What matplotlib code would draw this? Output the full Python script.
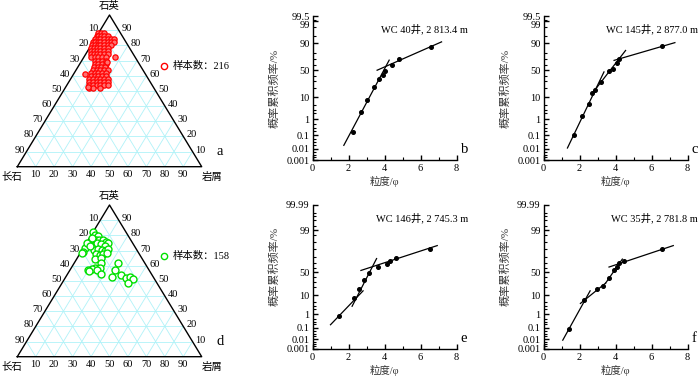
import math
import numpy as np
import matplotlib
matplotlib.use("Agg")
import matplotlib.pyplot as plt

plt.rcParams['font.family'] = ['Liberation Serif', 'Noto Sans CJK SC', 'DejaVu Sans']
plt.rcParams['axes.unicode_minus'] = False

# ---------------- data: ternary (quartz Q %, rock fragments R %; feldspar = 100-Q-R)
red_Q = [88, 88, 88, 86, 86, 86, 86, 86, 84, 84, 84, 84, 84, 84, 84,
         82, 82, 82, 82, 82, 82, 82, 82, 80, 80, 80, 80, 80, 80, 80,
         78, 78, 78, 78, 78, 78, 76, 76, 76, 76, 76, 76, 74, 74, 74, 74, 74, 74,
         72, 72, 72, 72, 72, 70, 70, 70, 70, 68, 68, 68, 68, 66, 66, 66, 66,
         64, 64, 64, 64, 64, 62, 62, 62, 62, 62, 60, 60, 60, 60, 60,
         58, 58, 58, 58, 58, 58, 56, 56, 56, 56, 56, 56, 54, 54, 54, 54, 54, 54,
         52, 52, 52, 72.5, 61, 52.3, 69.2]
red_R = [0, 1.5, 3, 0, 1, 2.5, 4, 6, 0, 1.5, 3, 5, 7, 9, 10.5,
         0, 1, 2.5, 4, 6, 8, 10, 11.5, 0.5, 2, 3.5, 5, 7, 9, 11,
         1, 2.5, 4, 6, 8, 10, 2, 3.5, 5, 7, 9, 11, 3, 4.5, 6, 8, 10, 12,
         4, 6, 8, 10, 12, 7, 9, 11, 13, 8, 10, 12, 14, 8.5, 10.5, 12.5, 14.5,
         9, 11, 13, 15, 17, 9, 11, 13, 15, 17, 10, 12, 14, 16, 18,
         10, 12, 14, 16, 18, 20, 11, 13, 15, 17, 19, 21, 12, 14, 16, 18, 20, 22,
         13, 15, 19, 17, 6.2, 12.4, 13.9]

green_Q = [82.0, 80.2, 79.8, 77.6, 76.9, 76.9, 76.9, 75.8, 74.8, 74.8, 74.1, 73.2,
           71.9, 69.2, 68.2, 70.3, 71.0, 70.3, 69.7, 71.0, 67.5, 67.0, 67.5, 68.2,
           64.4, 65.3, 61.6, 58.7, 57.6, 57.2, 58.3, 57.2, 54.3, 61.6, 57.2, 52.7,
           53.9, 52.1, 52.7, 51.0, 48.8, 74.8, 78.5, 73.0, 56.5]
green_R = [0.0, 2.0, 4.0, 2.1, 4.2, 6.0, 8.2, 10.2, 11.9, 5.7, 8.2, 11.0,
           0.8, 1.2, 0.8, 6.4, 8.4, 10.6, 12.7, 13.8, 8.9, 11.3, 12.9, 14.4,
           9.9, 12.6, 14.4, 12.8, 11.5, 9.9, 15.7, 14.8, 18.1, 24.0, 24.4, 24.9,
           29.1, 32.9, 34.8, 37.4, 35.5, 0.6, 1.0, 3.0, 10.8]

tern_ticks = [10, 20, 30, 40, 50, 60, 70, 80, 90]

# ---------------- data: grain-size probability curves (phi, cumulative %)
b_x = [2.26, 2.67, 3.0, 3.41, 3.69, 3.93, 4.02, 4.39, 4.8, 6.61]
b_p = [0.16, 2.4, 7.6, 21.5, 33, 40.5, 48, 59.5, 70.5, 86]
b_lines = [([1.74, 4.26], [0.018, 68.4]), ([3.59, 7.17], [50, 91.1])]

c_x = [1.72, 2.16, 2.51, 2.72, 2.87, 3.18, 3.66, 3.85, 4.1, 4.21, 6.56]
c_p = [0.11, 1.4, 5.2, 13.5, 17.6, 28.5, 48, 53, 64, 71, 87.5]
c_lines = [([1.33, 3.36], [0.011, 46.8]), ([2.68, 4.56], [12.9, 82.6]),
           ([3.92, 7.3], [68, 90.5])]

e_x = [1.48, 2.33, 2.59, 2.85, 3.15, 3.65, 4.15, 4.3, 4.63, 6.54]
e_p = [0.78, 7.4, 17.4, 33.4, 48.4, 60.3, 66.6, 72.6, 78, 89.6]
e_lines = [([1.0, 2.81], [0.175, 14.9]), ([2.2, 3.56], [2.9, 77.3]),
           ([2.69, 6.93], [53.6, 92.9])]

f_x = [1.41, 2.25, 2.99, 3.29, 3.62, 3.9, 4.1, 4.21, 4.49, 6.6]
f_p = [0.082, 5.8, 17.4, 22.7, 37.4, 53.6, 61, 70.2, 73.2, 90.3]
f_lines = [([1.07, 2.59], [0.008, 14.9]), ([2.05, 3.45], [4.1, 27.0]),
           ([3.45, 4.38], [27.0, 76.4]), ([3.64, 7.21], [61, 92.9])]

titles = ["WC 40井, 2 813.4 m", "WC 145井, 2 877.0 m",
          "WC 146井, 2 745.3 m", "WC 35井, 2 781.8 m"]
yt_top = [0.001, 0.01, 0.1, 1, 10, 50, 90, 99, 99.5]
yt_bot = [0.001, 0.01, 0.1, 1, 10, 50, 99, 99.99]
xt = [0, 2, 4, 6, 8]

# ---------------- probability (probit) scale
_a = [-3.969683028665376e+01, 2.209460984245205e+02, -2.759285104469687e+02,
      1.383577518672690e+02, -3.066479806614716e+01, 2.506628277459239e+00]
_b = [-5.447609879822406e+01, 1.615858368580409e+02, -1.556989798598866e+02,
      6.680131188771972e+01, -1.328068155288572e+01]
_c = [-7.784894002430293e-03, -3.223964580411365e-01, -2.400758277161838e+00,
      -2.549732539343734e+00, 4.374664141464968e+00, 2.938163982698783e+00]
_d = [7.784695709041462e-03, 3.224671290700398e-01, 2.445134137142996e+00,
      3.754408661907416e+00]


def _ppf1(p):
    plow = 0.02425
    if p < plow:
        q = math.sqrt(-2 * math.log(p))
        return ((((((_c[0]*q+_c[1])*q+_c[2])*q+_c[3])*q+_c[4])*q+_c[5]) /
                ((((_d[0]*q+_d[1])*q+_d[2])*q+_d[3])*q+1))
    if p > 1 - plow:
        q = math.sqrt(-2 * math.log(1 - p))
        return -((((((_c[0]*q+_c[1])*q+_c[2])*q+_c[3])*q+_c[4])*q+_c[5]) /
                 ((((_d[0]*q+_d[1])*q+_d[2])*q+_d[3])*q+1))
    q = p - 0.5
    r = q*q
    return ((((((_a[0]*r+_a[1])*r+_a[2])*r+_a[3])*r+_a[4])*r+_a[5])*q /
            (((((_b[0]*r+_b[1])*r+_b[2])*r+_b[3])*r+_b[4])*r+1))


def fwd(pct):
    pct = np.asarray(pct, dtype=float)
    p = np.clip(pct / 100.0, 1e-12, 1 - 1e-12)
    return np.vectorize(_ppf1, otypes=[float])(p)


def inv(z):
    z = np.asarray(z, dtype=float)
    return 100.0 * 0.5 * (1 + np.vectorize(math.erf, otypes=[float])(z / math.sqrt(2)))


W, H = 700, 378
fig = plt.figure(figsize=(7, 3.78), dpi=100)


def add_ax(l, t, r, b):
    return fig.add_axes([l / W, 1 - b / H, (r - l) / W, (b - t) / H])


# ---------------- ternary diagrams
def ternary(box, Q, R, color, face, ms, mew, count, letter):
    ax = add_ax(*box)
    ax.set_xlim(0, 100)
    ax.set_ylim(0, 100)
    ax.axis('off')
    px = 100 / (box[2] - box[0])
    py = 100 / (box[3] - box[1])
    grid_c = '#b0f2f8'
    for v in tern_ticks:
        ax.plot([v / 2, 100 - v / 2], [v, v], color=grid_c, lw=0.6, zorder=1)
        ax.plot([v, v + (100 - v) / 2], [0, 100 - v], color=grid_c, lw=0.6, zorder=1)
        ax.plot([100 - v, (100 - v) / 2], [0, 100 - v], color=grid_c, lw=0.6, zorder=1)
    ax.plot([0, 50, 100, 0], [0, 100, 0, 0], color='black', lw=1.0, zorder=2,
            clip_on=False)
    fs = 7.5
    for v in tern_ticks:
        ax.text(v / 2 - 2 * px, v + 1.5 * py, str(100 - v), ha='right', va='center',
                fontsize=fs)
        ax.text(100 - v / 2 + 3 * px, v + 1.5 * py, str(v), ha='left', va='center',
                fontsize=fs)
        ax.text(v, -3 * py, str(v), ha='center', va='top', fontsize=fs)
    ax.text(50, 100 + 9 * py, '石英', ha='center', va='center', fontsize=fs)
    ax.text(-3, -10 * py, '长石', ha='center', va='center', fontsize=fs)
    ax.text(105.4, -10 * py, '岩屑', ha='center', va='center', fontsize=fs)
    ax.text(110, 10, letter, ha='center', va='center', fontsize=10.5)
    Qa = np.array(Q, dtype=float)
    Ra = np.array(R, dtype=float)
    xs = Ra + Qa / 2
    ax.plot(xs, Qa, 'o', ms=ms, mfc=face, mec=color, mew=mew, ls='none', zorder=3,
            clip_on=False)
    ax.plot([79.7], [66.6], 'o', ms=4.5, mfc='white', mec=color, mew=1.0, clip_on=False)
    ax.text(84.5, 66.6, '样本数：' + count, ha='left', va='center', fontsize=fs)
    return ax


ternary((17.3, 15, 201.7, 166.7), red_Q, red_R, '#ff0000', '#ff7070', 3.8, 0.9,
        str(216), 'a')
ternary((17.3, 205, 201.7, 356.7), green_Q, green_R, '#00e000', 'white', 5.0, 1.0,
        str(158), 'd')

# ---------------- probability panels
panels = [
    ((312.5, 16, 456.5, 160), b_x, b_p, b_lines, titles[0], yt_top, 99.5, 'b', 468, 0.5),
    ((543.5, 16, 687.5, 160), c_x, c_p, c_lines, titles[1], yt_top, 99.5, 'c', 698, 0.5),
    ((312.5, 205, 456.5, 349), e_x, e_p, e_lines, titles[2], yt_bot, 99.99, 'e', 468, 0.57),
    ((543.5, 205, 687.5, 349), f_x, f_p, f_lines, titles[3], yt_bot, 99.99, 'f', 698, 0.57),
]
minor_top = [0.002, 0.003, 0.005, 0.02, 0.03, 0.05, 0.2, 0.3, 0.5, 2, 3, 5, 20, 30, 40,
             60, 70, 80, 95, 98, 99.2]
minor_bot = [0.002, 0.003, 0.005, 0.02, 0.03, 0.05, 0.2, 0.3, 0.5, 2, 3, 5, 20, 30, 40,
             60, 70, 80, 90, 95, 98, 99.5, 99.8, 99.9, 99.95]


def fmt(v):
    return '%g' % v


for box, xs, ps, lines, title, yt, top, letter, tx, ylab_y in panels:
    ax = add_ax(*box)
    ax.set_yscale('function', functions=(fwd, inv))
    ax.set_xlim(0, 8)
    ax.set_ylim(0.001, top)
    for lx, lp in lines:
        ax.plot(lx, lp, color='black', lw=0.9, zorder=2)
    ax.plot(xs, ps, 'o', ms=2.6, color='black', zorder=3)
    for s in ['top', 'right']:
        ax.spines[s].set_visible(False)
    ax.spines['left'].set_linewidth(1.0)
    ax.spines['bottom'].set_linewidth(1.0)
    ax.set_yticks(yt)
    ax.set_yticklabels([fmt(v) for v in yt])
    ax.set_yticks(minor_top if top < 99.9 else minor_bot, minor=True)
    ax.yaxis.set_minor_formatter(matplotlib.ticker.NullFormatter())
    ax.set_xticks(xt)
    ax.set_xticks([1, 3, 5, 7], minor=True)
    ax.tick_params(axis='both', which='major', direction='in', length=3.5, width=1.0,
                   labelsize=7.5, pad=2)
    ax.tick_params(axis='x', which='major', pad=3)
    ax.tick_params(axis='both', which='minor', direction='in', length=2.5, width=0.8)
    if top < 99.9:
        lbls = ax.get_yticklabels()
        lbls[-2].set_va('top')
    fig.text(tx / W, 1 - (box[1] + 12.5) / H, title, ha='right', va='center',
             fontsize=7.5)
    ax.set_xlabel('粒度/φ', fontsize=7.5, labelpad=2, color='#333333')
    ax.set_ylabel('概率累积频率/%', fontsize=8, color='#333333')
    ax.yaxis.set_label_coords(-0.226, ylab_y)
    ax.text(1.03, 0.07, letter, transform=ax.transAxes, ha='left', va='center',
            fontsize=10.5)
    ax.patch.set_alpha(0)

fig.savefig('out.png', dpi=100)
